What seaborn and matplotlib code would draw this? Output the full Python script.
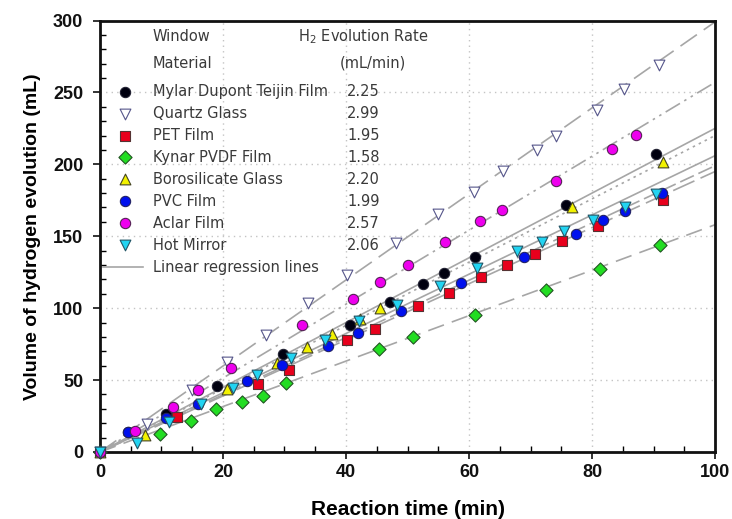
import numpy as np
import pandas as pd
import matplotlib
matplotlib.use("Agg")
import matplotlib.pyplot as plt
import seaborn as sns

# --- data ---
materials = ["Mylar Dupont Teijin Film", "Quartz Glass", "PET Film", "Kynar PVDF Film",
             "Borosilicate Glass", "PVC Film", "Aclar Film", "Hot Mirror"]
rates = [2.25, 2.99, 1.95, 1.58, 2.20, 1.99, 2.57, 2.06]

mylar_t = [0, 4.6, 10.7, 19.1, 29.7, 40.7, 47.2, 52.5, 55.9, 61.0, 75.7, 90.4]
mylar_v = [0, 13.9, 26.6, 46.1, 68.2, 88.0, 104.4, 116.7, 124.6, 135.4, 171.4, 207.4]

quartz_t = [0, 7.65, 15.0, 20.7, 26.95, 33.9, 40.1, 48.2, 55.0, 60.8, 65.5, 71.0, 74.2, 80.8, 85.2, 90.9]
quartz_v = [0, 19.5, 43.1, 62.6, 81.1, 103.5, 122.8, 145.2, 165.4, 181.1, 195.1, 209.7, 219.4, 238.0, 252.6, 268.8]

pet_t = [0, 12.6, 25.7, 30.7, 40.2, 44.7, 51.7, 56.7, 62.0, 66.2, 70.7, 75.2, 81.0, 91.5]
pet_v = [0, 24.4, 47.2, 57.3, 77.6, 85.6, 101.6, 110.4, 121.8, 130.1, 137.6, 147.0, 156.8, 175.4]

kynar_t = [0, 9.7, 14.8, 18.8, 23.1, 26.5, 30.3, 45.4, 50.9, 60.9, 72.5, 81.3, 91.1]
kynar_v = [0, 12.5, 21.6, 29.6, 34.6, 38.6, 47.7, 71.5, 79.7, 95.3, 112.7, 127.3, 143.6]

boro_t = [0, 7.25, 20.6, 28.7, 33.7, 37.8, 42.2, 45.5, 76.7, 91.5]
boro_v = [0, 11.8, 43.8, 61.9, 73.1, 82.1, 92.2, 100.3, 170.0, 201.6]

pvc_t = [0, 4.6, 10.7, 15.9, 23.9, 29.6, 37.0, 41.9, 48.9, 58.7, 68.9, 77.4, 81.8, 85.3, 91.3]
pvc_v = [0, 13.8, 23.7, 33.4, 49.5, 60.5, 73.8, 82.6, 98.3, 117.8, 135.5, 151.9, 161.0, 167.7, 180.0]

aclar_t = [0, 5.7, 11.8, 15.9, 21.3, 32.8, 41.1, 45.6, 50.1, 56.1, 61.8, 65.3, 74.2, 83.2, 87.2]
aclar_v = [0, 14.6, 31.0, 42.8, 58.2, 88.4, 106.3, 118.3, 130.1, 146.3, 160.8, 168.4, 188.6, 210.6, 220.6]

mirror_t = [0, 6.0, 11.3, 16.4, 21.6, 25.5, 31.1, 36.6, 42.1, 48.3, 55.3, 61.3, 67.8, 71.9, 75.4, 80.1, 85.3, 90.4]
mirror_v = [0, 6.5, 21.1, 33.4, 44.2, 53.2, 65.2, 77.6, 91.0, 101.9, 115.5, 127.8, 139.7, 146.1, 153.9, 161.4, 170.0, 179.5]

times = [mylar_t, quartz_t, pet_t, kynar_t, boro_t, pvc_t, aclar_t, mirror_t]
volumes = [mylar_v, quartz_v, pet_v, kynar_v, boro_v, pvc_v, aclar_v, mirror_v]

# --- styles ---
markers = ["o", "v", "s", "D", "^", "o", "o", "v"]
faces = ["#000010", "white", "#e8001c", "#22dd22", "#f2f200", "#0010ee", "#ee00ee", "#22d4f2"]
edges = ["#222233", "#55558a", "#553333", "#225522", "#444422", "#222266", "#552255", "#225566"]
sizes = [55, 60, 50, 45, 60, 55, 55, 60]
line_styles = [
    "-",
    (0, (12, 5)),
    (0, (14, 4)),
    (0, (10, 5)),
    (0, (1.5, 2.5)),
    (0, (9, 3)),
    (0, (10, 3, 1.5, 3, 1.5, 3)),
    "-",
]

plt.rcParams["font.family"] = ["Liberation Sans", "DejaVu Sans"]

fig = plt.figure(figsize=(7.32, 5.19), dpi=100)
ax = fig.add_axes([0.1366, 0.1291, 0.8402, 0.8314])

# regression lines (through origin, slope = rate)
x_fit = np.array([0, 100])
for rate, ls in zip(rates, line_styles):
    df_fit = pd.DataFrame({"t": x_fit, "v": rate * x_fit})
    sns.lineplot(data=df_fit, x="t", y="v", ax=ax, color="#a6a6a6", lw=1.2,
                 linestyle=ls, zorder=2)

# measured points
for i in range(len(materials)):
    df = pd.DataFrame({"t": times[i], "v": volumes[i]})
    sns.scatterplot(data=df, x="t", y="v", ax=ax, marker=markers[i], s=sizes[i],
                    color=faces[i], edgecolor=edges[i], linewidth=0.8, zorder=3,
                    clip_on=False)

ax.set_xlim(0, 100)
ax.set_ylim(0, 300)
ax.set_xticks(np.arange(0, 101, 20))
ax.set_yticks(np.arange(0, 301, 50))
ax.set_xticks(np.arange(0, 101, 5), minor=True)
ax.set_yticks(np.arange(0, 301, 10), minor=True)
ax.tick_params(which="major", direction="out", length=5, width=1.2, labelsize=13,
               colors="#111111")
ax.tick_params(axis="y", which="major", pad=7)
ax.tick_params(which="minor", direction="in", length=4, width=1.0)
for lab in ax.get_xticklabels() + ax.get_yticklabels():
    lab.set_fontweight("bold")
ax.grid(True, which="major", linestyle=(0, (1, 3)), color="#c4c4c4", lw=1.0)
ax.set_axisbelow(True)
for sp in ax.spines.values():
    sp.set_linewidth(2.0)
    sp.set_color("#111111")

ax.set_xlabel("Reaction time (min)", fontsize=15, fontweight="bold", labelpad=14)
ax.set_ylabel("Volume of hydrogen evolution (mL)", fontsize=14, fontweight="bold", labelpad=9)

# legend drawn as a small table
txt = "#3a3a3a"
leg_font = dict(fontsize=10.5, color=txt, va="center", family=["DejaVu Sans"])
ax.text(0.0862, 0.962, "Window", transform=ax.transAxes, **leg_font)
ax.text(0.0862, 0.9015, "Material", transform=ax.transAxes, **leg_font)
ax.text(0.322, 0.962, r"H$_2$ Evolution Rate", transform=ax.transAxes, **leg_font)
ax.text(0.390, 0.9015, "(mL/min)", transform=ax.transAxes, **leg_font)

row_y = 0.835
for i in range(len(materials)):
    y = row_y - i * 0.0508
    ax.scatter([0.0407], [y], transform=ax.transAxes, marker=markers[i], s=sizes[i],
               c=faces[i], edgecolors=edges[i], linewidths=0.8, zorder=4, clip_on=False)
    ax.text(0.0862, y, materials[i], transform=ax.transAxes, **leg_font)
    ax.text(0.4016, y, f"{rates[i]:.2f}", transform=ax.transAxes, **leg_font)

y = row_y - len(materials) * 0.0508
ax.plot([0.005, 0.07], [y, y], transform=ax.transAxes, color="#a6a6a6", lw=1.2)
ax.text(0.0862, y, "Linear regression lines", transform=ax.transAxes, **leg_font)

fig.savefig("out.png", dpi=100)
